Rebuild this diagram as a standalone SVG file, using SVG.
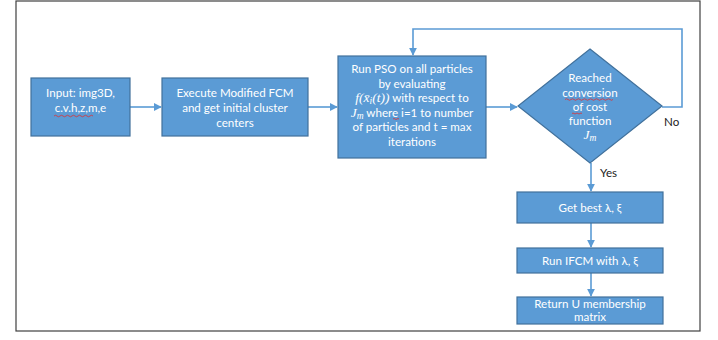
<svg xmlns="http://www.w3.org/2000/svg" width="718" height="340" viewBox="0 0 718 340">
<defs>
<style>
.node{fill:#5B9BD5;stroke:#41719C;stroke-width:1.2}
.t{font-family:Lato,"Open Sans","Liberation Sans",sans-serif;font-size:11.6px;fill:#ffffff;text-anchor:middle}
.m{font-family:"Liberation Serif","DejaVu Serif",serif;font-style:italic;font-size:13.5px}
.s{font-size:9.5px}
.c{fill:none;stroke:#5B9BD5;stroke-width:1.6}
.lbl{font-family:Lato,"Open Sans","Liberation Sans",sans-serif;font-size:11.6px;fill:#222222}
.sq{fill:none;stroke:#e03030;stroke-width:0.8}
</style>
<marker id="ah" viewBox="0 0 10 10" refX="9" refY="5" markerWidth="5" markerHeight="5" orient="auto">
<path d="M0,0 L10,5 L0,10 z" fill="#5B9BD5"/>
</marker>
</defs>
<rect x="0" y="0" width="718" height="340" fill="#ffffff"/>
<rect x="16" y="1" width="684" height="330" fill="#ffffff" stroke="#404040" stroke-width="1.2"/>
<g id="connectors">
<path class="c" d="M130,107 H161" marker-end="url(#ah)"/>
<path class="c" d="M308,107 H337" marker-end="url(#ah)"/>
<path class="c" d="M486,107 H517" marker-end="url(#ah)"/>
<path class="c" d="M662,107 H682 V29 H413 V55" marker-end="url(#ah)"/>
<path class="c" d="M591,163 V191" marker-end="url(#ah)"/>
<path class="c" d="M591,223 V247" marker-end="url(#ah)"/>
<path class="c" d="M591,273 V296" marker-end="url(#ah)"/>
<text class="lbl" x="664" y="126">No</text>
<text class="lbl" x="600" y="177">Yes</text>
</g>
<g id="input">
<rect class="node" x="31" y="78" width="99" height="58"/>
<text class="t" x="80.5" y="97">Input: img3D,</text>
<text class="t" x="80.5" y="112">c.v.h,z,m,e</text>
<path class="sq" d="M54,116 q1.5,-1.5 3,0 t3,0 t3,0 t3,0 t3,0 t3,0 t3,0 t3,0 t3,0 t3,0 t3,0 t3,0 t3,0"/>
</g>
<g id="fcm">
<rect class="node" x="162" y="78" width="146" height="58"/>
<text class="t" x="235" y="97">Execute Modified FCM</text>
<text class="t" x="235" y="112">and get initial cluster</text>
<text class="t" x="235" y="127">centers</text>
</g>
<g id="pso">
<rect class="node" x="338" y="56" width="148" height="102"/>
<text class="t" x="412" y="73">Run PSO on all particles</text>
<text class="t" x="412" y="87.5">by evaluating</text>
<text class="t" x="412" y="102"><tspan class="m">f</tspan><tspan class="m">(</tspan><tspan class="m">x̄</tspan><tspan class="m s" dy="2">i</tspan><tspan class="m" dy="-2">(</tspan><tspan class="m">t</tspan><tspan class="m">))</tspan> with respect to</text>
<text class="t" x="412" y="116.5"><tspan class="m">J</tspan><tspan class="m s" dy="2">m</tspan><tspan dy="-2"> where i=1 to number</tspan></text>
<path class="sq" d="M393,119 q1,-1 2,0 t2,0 t2,0"/>
<text class="t" x="412" y="131">of particles and t = max</text>
<text class="t" x="412" y="145.5">iterations</text>
</g>
<g id="decision">
<polygon class="node" points="590,49 662,106 590,163 518,106"/>
<text class="t" x="590" y="82">Reached</text>
<text class="t" x="590" y="96.5">conversion</text>
<path class="sq" d="M565,99.5 q1.5,-1.5 3,0 t3,0 t3,0 t3,0 t3,0 t3,0 t3,0 t3,0 t3,0 t3,0 t3,0 t3,0 t3,0 t3,0 t3,0 t3,0"/>
<text class="t" x="590" y="110.5">of cost</text>
<path class="sq" d="M572,113.5 q1,-1 2,0 t2,0 t2,0 t2,0 t2,0"/>
<text class="t" x="590" y="124.5">function</text>
<text class="t" x="590" y="138.5"><tspan class="m">J</tspan><tspan class="m s" dy="2">m</tspan></text>
</g>
<g id="best">
<rect class="node" x="517" y="192" width="146" height="31"/>
<text class="t" x="590" y="212">Get best λ, ξ</text>
</g>
<g id="ifcm">
<rect class="node" x="517" y="248" width="146" height="25"/>
<text class="t" x="590" y="264.5">Run IFCM with λ, ξ</text>
</g>
<g id="return">
<rect class="node" x="517" y="297" width="146" height="27"/>
<text class="t" x="590" y="307.5">Return U membership</text>
<text class="t" x="590" y="321">matrix</text>
</g>
</svg>
